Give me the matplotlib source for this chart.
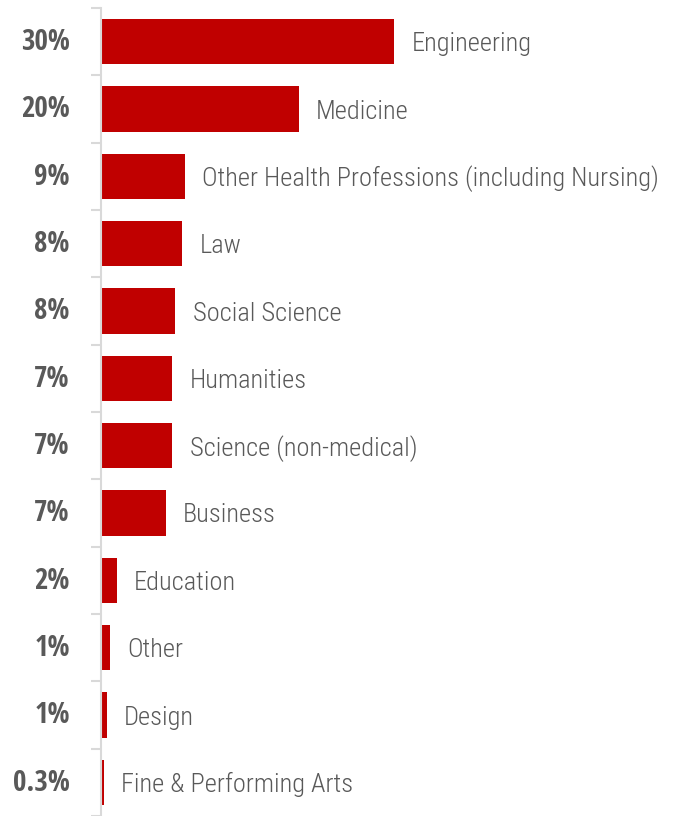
import matplotlib.pyplot as plt
from matplotlib import font_manager

categories = ["Engineering", "Medicine", "Other Health Professions (including Nursing)",
              "Law", "Social Science", "Humanities", "Science (non-medical)", "Business",
              "Education", "Other", "Design", "Fine & Performing Arts"]
shares = [30.0, 20.2, 8.6, 8.3, 7.6, 7.3, 7.3, 6.6, 1.6, 0.9, 0.6, 0.3]
share_labels = ["30%", "20%", "9%", "8%", "8%", "7%", "7%", "7%", "2%", "1%", "1%", "0.3%"]

# condensed faces: bold one for the percents, the lightest one for the names
fonts = font_manager.fontManager.ttflist
names = {f.name for f in fonts}
candidates = ["Open Sans Condensed", "Roboto Condensed", "Fira Sans Extra Condensed",
              "PT Sans Narrow", "Archivo Narrow", "Liberation Sans Narrow"]
pct_font = next((c for c in candidates if c in names), "DejaVu Sans")

light_candidates = ["Open Sans Condensed Light", "Open Sans Condensed", "Roboto Condensed Light",
                    "Roboto Condensed", "Fira Sans Extra Condensed Light",
                    "Fira Sans Extra Condensed", "PT Sans Narrow", "Archivo Narrow"]
cat_font, cat_weight = "DejaVu Sans", "normal"
for c in light_candidates:
    w = [int(f.weight) for f in fonts if f.name == c and f.style == "normal"
         and str(f.weight).isdigit() and int(f.weight) <= 400]
    if w:
        cat_font, cat_weight = c, min(w)
        break

pct_size = 21 if pct_font != "DejaVu Sans" else 17
cat_size = 19 if cat_font != "DejaVu Sans" else 14

bar_color = "#C00000"
text_color = "#595959"
axis_color = "#D9D9D9"

fig = plt.figure(figsize=(6.74, 8.16), dpi=100)
ax = fig.add_axes([101 / 674, 0, 573 / 674, 1 - 8 / 816])

y = list(range(len(categories)))
ax.barh(y, shares, height=0.67, color=bar_color, edgecolor="none", zorder=1)

ax.set_xlim(0, 58.6)
ax.set_ylim(len(categories) - 0.5, -0.5)

# spine + ticks between rows
for side in ["top", "right", "bottom"]:
    ax.spines[side].set_visible(False)
ax.spines["left"].set_color(axis_color)
ax.spines["left"].set_linewidth(1.5)
ax.set_xticks([])
ax.set_yticks([i - 0.5 for i in range(len(categories) + 1)])
ax.set_yticklabels([])
ax.tick_params(axis="y", length=7.5, width=1.5, color=axis_color, direction="out")

for i, (val, lab, cat) in enumerate(zip(shares, share_labels, categories)):
    ax.annotate(lab, xy=(0, i), xytext=(-22.5, -0.7), textcoords="offset points",
                ha="right", va="center", fontsize=pct_size, fontweight="bold",
                family=pct_font, color=text_color)
    ax.annotate(cat, xy=(val, i), xytext=(12.5, -1.8), textcoords="offset points",
                ha="left", va="center", fontsize=cat_size, fontweight=cat_weight,
                family=cat_font, color=text_color)

fig.savefig("out.png", dpi=100)
